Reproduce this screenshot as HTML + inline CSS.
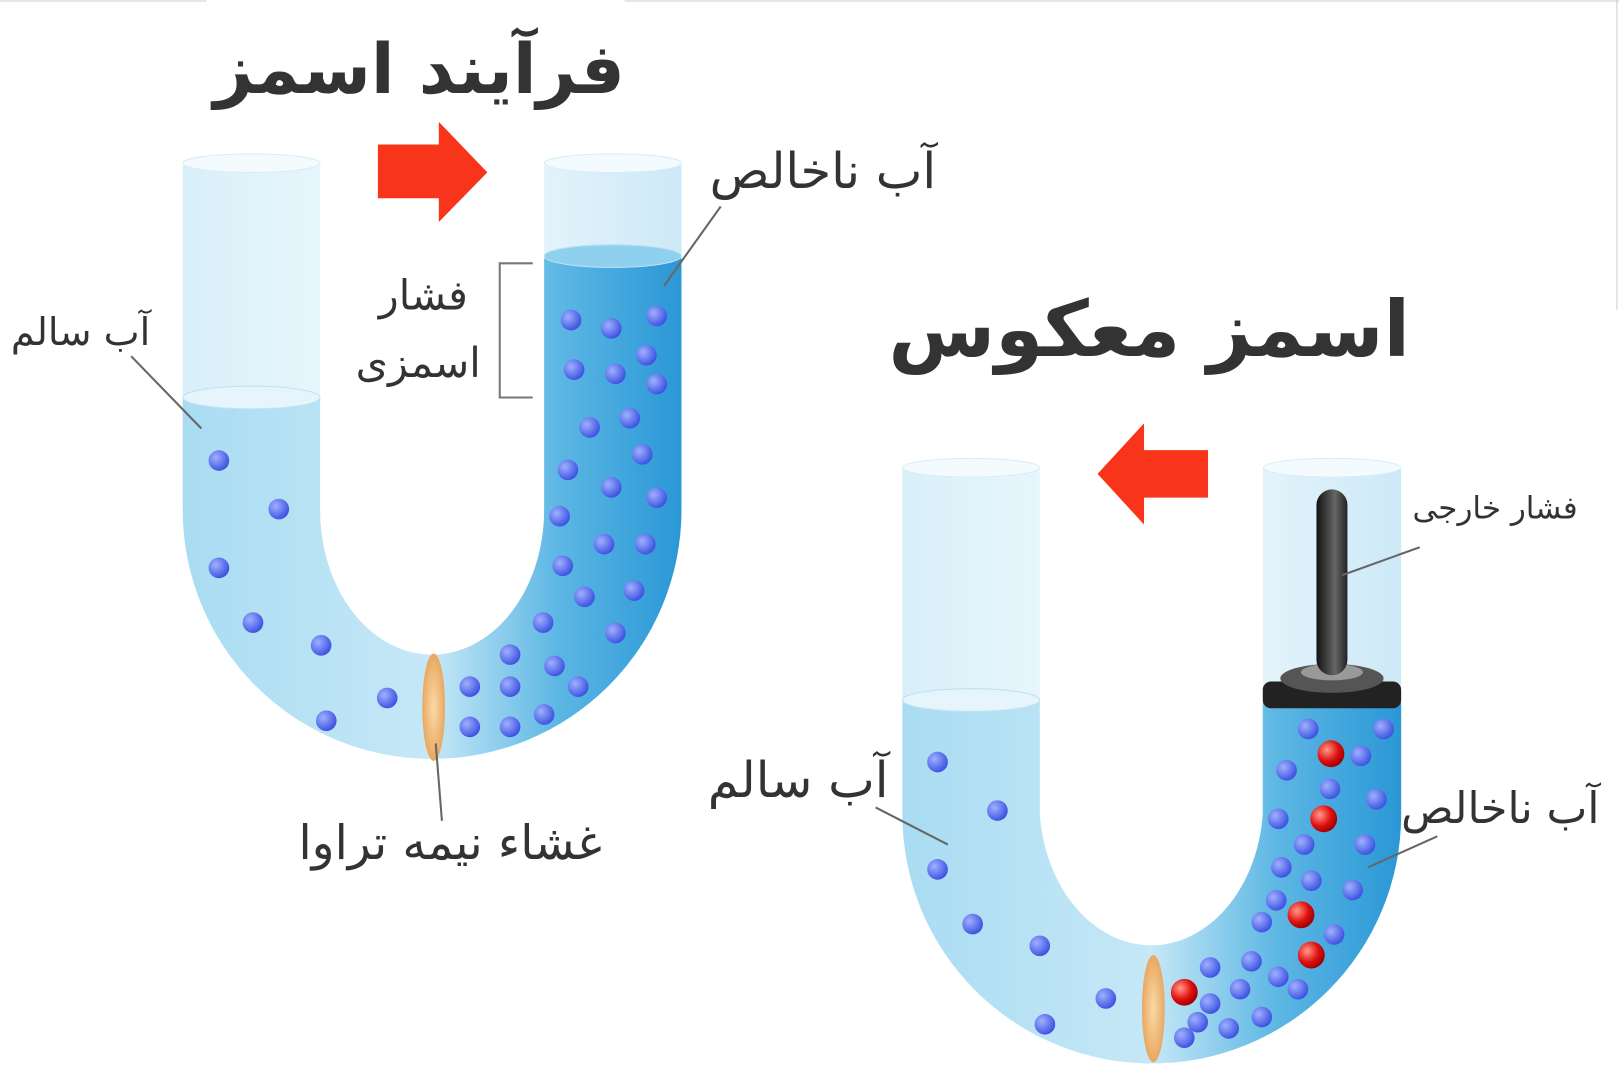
<!DOCTYPE html>
<html><head><meta charset="utf-8"><style>
html,body{margin:0;padding:0;background:#fff;}
svg{display:block}
.t{font-family:"DejaVu Sans",sans-serif;fill:#333;}
</style></head><body>
<svg width="1619" height="1080" viewBox="0 0 1568 1046" preserveAspectRatio="none" xmlns="http://www.w3.org/2000/svg">
<defs>
<linearGradient id="w1" x1="0" x2="1" y1="0" y2="0">
<stop offset="0" stop-color="#a9dcf2"/><stop offset="0.5" stop-color="#c6e8f7"/><stop offset="0.75" stop-color="#5db7e4"/><stop offset="1" stop-color="#2a97d6"/></linearGradient>
<linearGradient id="w2" x1="0" x2="1" y1="0" y2="0">
<stop offset="0" stop-color="#a9dcf2"/><stop offset="0.5" stop-color="#c6e8f7"/><stop offset="0.75" stop-color="#5db7e4"/><stop offset="1" stop-color="#2a97d6"/></linearGradient>
<linearGradient id="g" x1="0" x2="1"><stop offset="0" stop-color="#d8eff9"/><stop offset="0.5" stop-color="#f4fbfe"/><stop offset="1" stop-color="#cde9f6"/></linearGradient>
<radialGradient id="b" cx="0.35" cy="0.35" r="0.7"><stop offset="0" stop-color="#9fb0ff"/><stop offset="1" stop-color="#3a4fe0"/></radialGradient>
<radialGradient id="r" cx="0.35" cy="0.35" r="0.7"><stop offset="0" stop-color="#ff9a8a"/><stop offset="0.6" stop-color="#e01010"/><stop offset="1" stop-color="#900"/></radialGradient>
<linearGradient id="rod" x1="0" x2="1"><stop offset="0" stop-color="#111"/><stop offset="0.6" stop-color="#666"/><stop offset="1" stop-color="#222"/></linearGradient>
<radialGradient id="mem" cx="0.5" cy="0.5" r="0.5"><stop offset="0" stop-color="#fbd9a8"/><stop offset="1" stop-color="#e8a860"/></radialGradient>
</defs>
<rect width="1568" height="1046" fill="#fff"/>
<line x1="0" y1="1" x2="200" y2="1" stroke="#ccc"/><line x1="605" y1="1" x2="1568" y2="1" stroke="#ccc"/>
<line x1="1566" y1="0" x2="1566" y2="300" stroke="#ccc"/>

<g>
<path d="M177,160 L177,494 A241.5,241 0 0 0 660,494 L660,160 L527,160 L527,494 A108.5,140 0 0 1 310,494 L310,160 Z" fill="url(#g)"/>
<path d="M177,385 L177,494 A241.5,241 0 0 0 660,494 L660,250 L527,250 L527,494 A108.5,140 0 0 1 310,494 L310,385 Z" fill="url(#w1)"/>
<ellipse cx="243.5" cy="385" rx="66.5" ry="11" fill="#e6f5fc" stroke="#bfe2f2"/>
<ellipse cx="593.5" cy="248" rx="66.5" ry="11" fill="#8fd0ef" stroke="#bfe2f2"/>
<ellipse cx="243.5" cy="158" rx="66.5" ry="9" fill="#f4fbfe" stroke="#d6eef8"/>
<ellipse cx="593.5" cy="158" rx="66.5" ry="9" fill="#f4fbfe" stroke="#d6eef8"/>
<ellipse cx="420" cy="685" rx="11" ry="52" fill="url(#mem)"/>
<g fill="url(#b)">
<circle cx="212" cy="446" r="10"/><circle cx="270" cy="493" r="10"/><circle cx="212" cy="550" r="10"/><circle cx="245" cy="603" r="10"/><circle cx="311" cy="625" r="10"/><circle cx="375" cy="676" r="10"/><circle cx="316" cy="698" r="10"/>
<circle cx="553" cy="310" r="10"/><circle cx="592" cy="318" r="10"/><circle cx="636" cy="306" r="10"/><circle cx="556" cy="358" r="10"/><circle cx="596" cy="362" r="10"/><circle cx="626" cy="344" r="10"/><circle cx="636" cy="372" r="10"/>
<circle cx="571" cy="414" r="10"/><circle cx="610" cy="405" r="10"/><circle cx="622" cy="440" r="10"/><circle cx="550" cy="455" r="10"/><circle cx="592" cy="472" r="10"/><circle cx="636" cy="482" r="10"/><circle cx="542" cy="500" r="10"/>
<circle cx="585" cy="527" r="10"/><circle cx="625" cy="527" r="10"/><circle cx="545" cy="548" r="10"/><circle cx="566" cy="578" r="10"/><circle cx="614" cy="572" r="10"/><circle cx="526" cy="603" r="10"/><circle cx="596" cy="613" r="10"/>
<circle cx="494" cy="634" r="10"/><circle cx="537" cy="645" r="10"/><circle cx="455" cy="665" r="10"/><circle cx="494" cy="665" r="10"/><circle cx="560" cy="665" r="10"/><circle cx="527" cy="692" r="10"/><circle cx="455" cy="704" r="10"/><circle cx="494" cy="704" r="10"/>
</g>
</g>
<polygon points="366,140 425,140 425,118 472,167 425,215 425,192 366,192" fill="#f8341a"/>
<text class="t" x="406" y="90" font-size="67" font-weight="bold" text-anchor="middle" fill="#3a3a3a">فرآیند اسمز</text>
<text class="t" x="797" y="182" font-size="48" text-anchor="middle">آب ناخالص</text>
<line x1="643" y1="277" x2="698" y2="200" stroke="#666" stroke-width="2"/>
<text class="t" x="78" y="334" font-size="37" text-anchor="middle">آب سالم</text>
<line x1="127" y1="345" x2="195" y2="415" stroke="#666" stroke-width="2"/>
<text class="t" x="410" y="300" font-size="40" text-anchor="middle">فشار</text>
<text class="t" x="405" y="365" font-size="40" text-anchor="middle">اسمزی</text>
<path d="M516,255 L484,255 L484,385 L516,385" fill="none" stroke="#777" stroke-width="2"/>
<text class="t" x="436" y="832" font-size="46" text-anchor="middle">غشاء نیمه تراوا</text>
<line x1="422" y1="720" x2="428" y2="795" stroke="#666" stroke-width="2"/>

<g>
<path d="M874,455 L874,789 A241.5,241 0 0 0 1357,789 L1357,455 L1223,455 L1223,789 A108.5,140 0 0 1 1007,789 L1007,455 Z" fill="url(#g)"/>
<path d="M874,678 L874,789 A241.5,241 0 0 0 1357,789 L1357,680 L1223,680 L1223,789 A108.5,140 0 0 1 1007,789 L1007,678 Z" fill="url(#w2)"/>
<ellipse cx="940.5" cy="678" rx="66.5" ry="11" fill="#e6f5fc" stroke="#bfe2f2"/>
<ellipse cx="940.5" cy="453" rx="66.5" ry="9" fill="#f4fbfe" stroke="#d6eef8"/>
<ellipse cx="1290" cy="453" rx="66.5" ry="9" fill="#f4fbfe" stroke="#d6eef8"/>
<rect x="1223" y="660" width="134" height="26" rx="8" fill="#222"/>
<ellipse cx="1290" cy="657" rx="50" ry="14" fill="#555"/>
<ellipse cx="1290" cy="651" rx="30" ry="8" fill="#999"/>
<rect x="1275" y="474" width="30" height="180" rx="15" fill="url(#rod)"/>
<ellipse cx="1117" cy="977" rx="11" ry="52" fill="url(#mem)"/>
<g fill="url(#b)">
<circle cx="908" cy="738" r="10"/><circle cx="966" cy="785" r="10"/><circle cx="908" cy="842" r="10"/><circle cx="942" cy="895" r="10"/><circle cx="1007" cy="916" r="10"/><circle cx="1071" cy="967" r="10"/><circle cx="1012" cy="992" r="10"/>
<circle cx="1267" cy="706" r="10"/><circle cx="1340" cy="706" r="10"/><circle cx="1318" cy="732" r="10"/><circle cx="1246" cy="746" r="10"/><circle cx="1288" cy="764" r="10"/><circle cx="1333" cy="774" r="10"/><circle cx="1238" cy="793" r="10"/>
<circle cx="1263" cy="818" r="10"/><circle cx="1322" cy="818" r="10"/><circle cx="1241" cy="840" r="10"/><circle cx="1270" cy="853" r="10"/><circle cx="1310" cy="862" r="10"/><circle cx="1236" cy="872" r="10"/><circle cx="1222" cy="893" r="10"/>
<circle cx="1292" cy="905" r="10"/><circle cx="1172" cy="937" r="10"/><circle cx="1212" cy="931" r="10"/><circle cx="1238" cy="946" r="10"/><circle cx="1257" cy="958" r="10"/><circle cx="1172" cy="972" r="10"/><circle cx="1201" cy="958" r="10"/>
<circle cx="1222" cy="985" r="10"/><circle cx="1190" cy="996" r="10"/><circle cx="1147" cy="1005" r="10"/><circle cx="1160" cy="990" r="10"/>
</g>
<g fill="url(#r)">
<circle cx="1289" cy="730" r="13"/><circle cx="1282" cy="793" r="13"/><circle cx="1260" cy="886" r="13"/><circle cx="1270" cy="925" r="13"/><circle cx="1147" cy="961" r="13"/>
</g>
</g>
<polygon points="1170,436 1108,436 1108,410 1063,459 1108,508 1108,482 1170,482" fill="#f8341a"/>
<text class="t" x="1113" y="345" font-size="75" font-weight="bold" text-anchor="middle" fill="#3a3a3a">اسمز معکوس</text>
<text class="t" x="1448" y="502" font-size="30" text-anchor="middle">فشار خارجی</text>
<line x1="1300" y1="557" x2="1375" y2="530" stroke="#666" stroke-width="2"/>
<text class="t" x="773" y="772" font-size="48" text-anchor="middle">آب سالم</text>
<line x1="848" y1="782" x2="918" y2="818" stroke="#666" stroke-width="2"/>
<text class="t" x="1453" y="797" font-size="42" text-anchor="middle">آب ناخالص</text>
<line x1="1325" y1="840" x2="1392" y2="810" stroke="#666" stroke-width="2"/>
</svg>
</body></html>
